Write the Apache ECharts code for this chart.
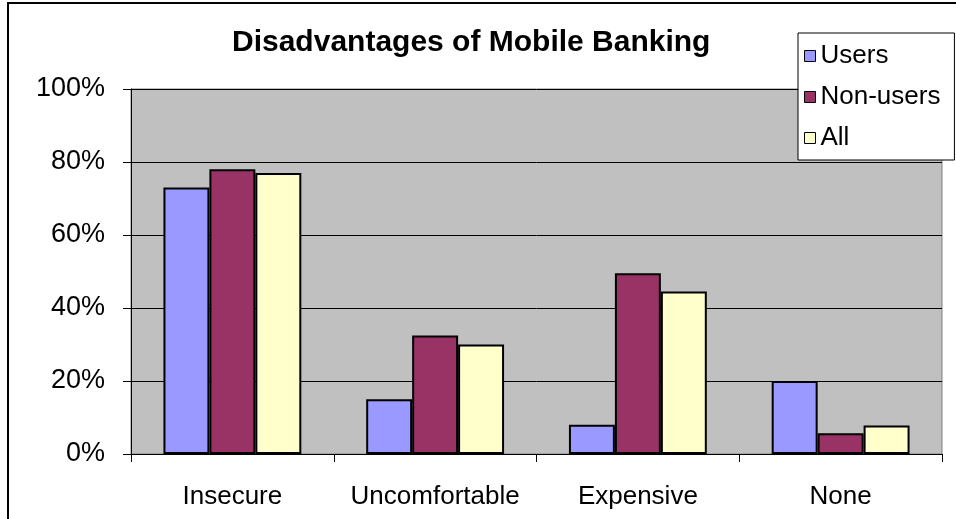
<!DOCTYPE html>
<html>
<head>
<meta charset="utf-8">
<script src="https://cdn.jsdelivr.net/npm/echarts@6/dist/echarts.min.js"></script>
<style>
  html, body { margin: 0; padding: 0; background: #fff; }
  #chart { width: 956px; height: 519px; }
</style>
</head>
<body>
<div id="chart"></div>
<script>
// data
var categories = ['Insecure', 'Uncomfortable', 'Expensive', 'None'];
var users = [73, 15, 8, 20];
var nonUsers = [78, 32.5, 49.5, 5.7];
var allResp = [77, 30, 44.5, 7.8];
var yTicks = [0, 20, 40, 60, 80, 100];

var font = 'Liberation Sans, Arial, sans-serif';
var chart = echarts.init(document.getElementById('chart'));

function barSeries(name, data, color) {
    return {
        name: name,
        type: 'bar',
        data: data,
        barGap: '0%',
        barCategoryGap: '32%',
        itemStyle: { color: color, borderColor: '#000', borderWidth: 2 }
    };
}

chart.setOption({
    animation: false,
    textStyle: { fontFamily: font, color: '#000' },
    title: {
        text: 'Disadvantages of Mobile Banking',
        left: 232,
        top: 28,
        padding: 0,
        textStyle: { fontFamily: font, fontSize: 30, fontWeight: 'bold', color: '#000' }
    },
    legend: {
        orient: 'vertical',
        left: 798,
        top: 33,
        padding: [10, 14, 9, 6],
        itemGap: 15,
        itemWidth: 11,
        itemHeight: 11,
        icon: 'rect',
        backgroundColor: '#fff',
        borderColor: '#000',
        borderWidth: 1,
        z: 10,
        itemStyle: { borderColor: '#000', borderWidth: 1 },
        textStyle: { fontFamily: font, fontSize: 26, color: '#000' },
        data: ['Users', 'Non-users', 'All']
    },
    grid: {
        left: 131,
        right: 14,
        top: 89,
        bottom: 65,
        show: true,
        backgroundColor: '#C0C0C0',
        borderColor: '#808080',
        borderWidth: 1
    },
    xAxis: {
        type: 'category',
        data: categories,
        axisLine: { lineStyle: { color: '#000', width: 1 } },
        axisTick: { show: true, length: 8, lineStyle: { color: '#000' } },
        axisLabel: { fontFamily: font, fontSize: 26, color: '#000', margin: 30, interval: 0 }
    },
    yAxis: {
        type: 'value',
        min: yTicks[0],
        max: yTicks[yTicks.length - 1],
        interval: 20,
        axisLine: { show: true, lineStyle: { color: '#000', width: 1 } },
        axisTick: { show: true, length: 8, lineStyle: { color: '#000' } },
        splitLine: { lineStyle: { color: '#000', width: 1 } },
        axisLabel: { fontFamily: font, fontSize: 27, color: '#000', margin: 26, formatter: '{value}%' }
    },
    graphic: [{
        type: 'rect',
        shape: { x: 8, y: 3, width: 1000, height: 600 },
        style: { fill: null, stroke: '#000', lineWidth: 2 },
        z: -1
    }],
    series: [
        barSeries('Users', users, '#9999FF'),
        barSeries('Non-users', nonUsers, '#993366'),
        barSeries('All', allResp, '#FFFFCC')
    ]
});
</script>
</body>
</html>
